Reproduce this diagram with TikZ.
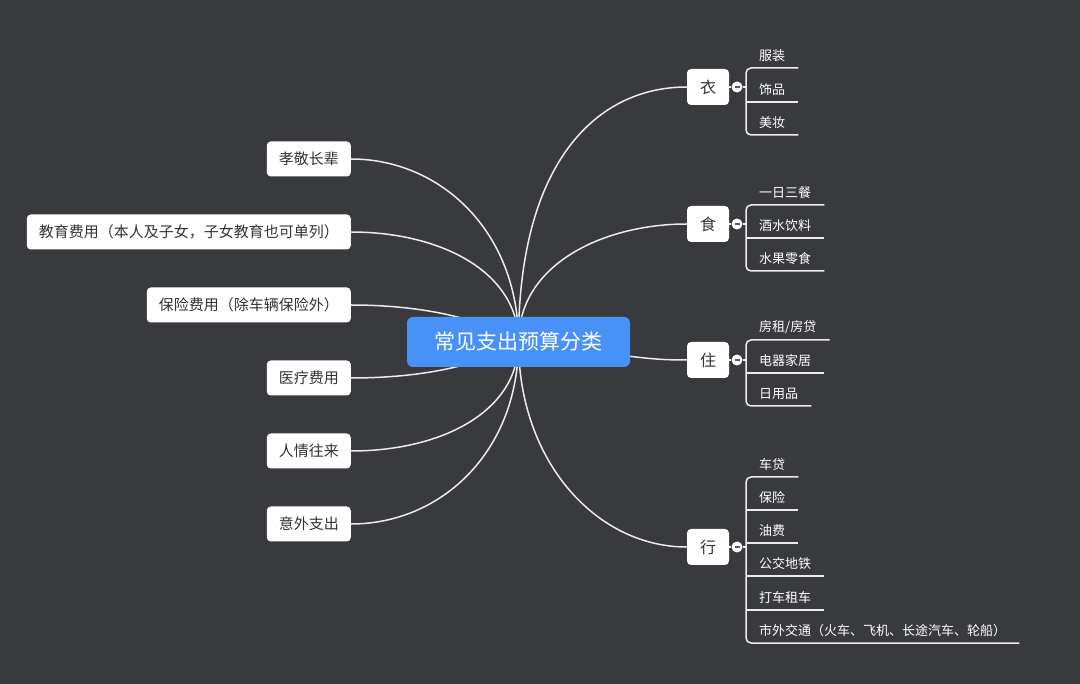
\documentclass[tikz,border=0pt]{standalone}
\usepackage{fontspec}
\setmainfont{Noto Sans CJK SC}
\usetikzlibrary{positioning}
\definecolor{bgdark}{RGB}{57,58,62}
\definecolor{rootblue}{RGB}{72,145,247}
\definecolor{boxtext}{RGB}{51,51,51}
\definecolor{wirecol}{RGB}{236,236,236}
\definecolor{foldgray}{RGB}{90,90,90}
\pgfdeclarelayer{bg}
\pgfdeclarelayer{wires}
\pgfsetlayers{bg,wires,main}
\newcommand{\foldmark}{\textcolor{foldgray}{\rule{5pt}{1.3pt}}}
\tikzset{
  root/.style={fill=rootblue, rounded corners=6pt, text=white, font=\fontsize{21}{24}\selectfont, minimum width=223pt, minimum height=50pt},
  sidebox/.style={fill=white, rounded corners=4pt, text=boxtext, font=\fontsize{15}{18}\selectfont, minimum height=35pt, inner xsep=12pt, anchor=east},
  catbox/.style={fill=white, rounded corners=4pt, text=boxtext, font=\fontsize{16}{19}\selectfont, minimum width=42pt, minimum height=36pt},
  fold/.style={circle, fill=white, minimum size=11pt, inner sep=0pt},
  leaf/.style={text=white, font=\fontsize{13}{15}\selectfont, anchor=south west, inner xsep=13pt, inner ysep=6pt},
  wire/.style={draw=wirecol, line width=1.5pt},
}
\begin{document}
\begin{tikzpicture}[x=1pt, y=-1pt]
    \begin{pgfonlayer}{bg}
        \fill[bgdark] (0,0) rectangle (1080,684);
    \end{pgfonlayer}
    \useasboundingbox (0,0) rectangle (1080,684);

    % root
    \node[root] (root) at (518.5,342) {常见支出预算分类};

    % left branches
    \node[sidebox] (elder) at (351,159) {孝敬长辈};
    \node[sidebox] (edu) at (351,232) {教育费用（本人及子女，子女教育也可单列）};
    \node[sidebox] (insur) at (351,305) {保险费用（除车辆保险外）};
    \node[sidebox] (medic) at (351,378) {医疗费用};
    \node[sidebox] (gift) at (351,451) {人情往来};
    \node[sidebox] (accident) at (351,524) {意外支出};

    % right branches
    \node[catbox] (yi) at (708,87) {衣};
    \node[catbox] (shi) at (708,224) {食};
    \node[catbox] (zhu) at (708,360) {住};
    \node[catbox] (xing) at (708,547) {行};
    \node[fold] (yi-f) at (737,87) {\foldmark};
    \node[fold] (shi-f) at (737,224) {\foldmark};
    \node[fold] (zhu-f) at (737,360) {\foldmark};
    \node[fold] (xing-f) at (737,547) {\foldmark};

    % leaves
    \node[leaf] (yi-1) at (746,68) {服装};
    \node[leaf] (yi-2) at (746,102) {饰品};
    \node[leaf] (yi-3) at (746,135) {美妆};

    \node[leaf] (shi-1) at (746,205) {一日三餐};
    \node[leaf] (shi-2) at (746,238) {酒水饮料};
    \node[leaf] (shi-3) at (746,271) {水果零食};

    \node[leaf] (zhu-1) at (746,340) {房租/房贷};
    \node[leaf] (zhu-2) at (746,373) {电器家居};
    \node[leaf] (zhu-3) at (746,406) {日用品};

    \node[leaf] (xing-1) at (746,477) {车贷};
    \node[leaf] (xing-2) at (746,510) {保险};
    \node[leaf] (xing-3) at (746,543) {油费};
    \node[leaf] (xing-4) at (746,576) {公交地铁};
    \node[leaf] (xing-5) at (746,610) {打车租车};
    \node[leaf] (xing-6) at (746,643) {市外交通（火车、飞机、长途汽车、轮船）};

    \begin{pgfonlayer}{wires}
        % root to left
        \draw[wire] (elder.east) .. controls +(90,0) and +(0,-110) .. (root.center);
        \draw[wire] (edu.east) .. controls +(90,0) and +(0,-70) .. (root.center);
        \draw[wire] (insur.east) .. controls +(80,0) and +(-30,-20) .. (root.center);
        \draw[wire] (medic.east) .. controls +(80,0) and +(-30,20) .. (root.center);
        \draw[wire] (gift.east) .. controls +(90,0) and +(0,70) .. (root.center);
        \draw[wire] (accident.east) .. controls +(90,0) and +(0,110) .. (root.center);

        % root to right
        \draw[wire] (root.center) .. controls +(0,-180) and +(-90,0) .. (yi.west);
        \draw[wire] (root.center) .. controls +(0,-80) and +(-80,0) .. (shi.west);
        \draw[wire] (root.center) .. controls +(120,15) and +(-40,0) .. (zhu.west);
        \draw[wire] (root.center) .. controls +(0,120) and +(-90,0) .. (xing.west);

        % categories to folds to brackets
        \draw[wire] (yi) -- (yi-f) -- (yi-f -| yi-1.south west);
        \draw[wire] (shi) -- (shi-f) -- (shi-f -| shi-1.south west);
        \draw[wire] (zhu) -- (zhu-f) -- (zhu-f -| zhu-1.south west);
        \draw[wire] (xing) -- (xing-f) -- (xing-f -| xing-1.south west);
    \end{pgfonlayer}

    % leaf brackets
    \draw[wire, rounded corners=5pt] (yi-1.south east) -- (yi-1.south west) -- (yi-3.south west) -- (yi-3.south east);
    \draw[wire] (yi-2.south west) -- (yi-2.south east);

    \draw[wire, rounded corners=5pt] (shi-1.south east) -- (shi-1.south west) -- (shi-3.south west) -- (shi-3.south east);
    \draw[wire] (shi-2.south west) -- (shi-2.south east);

    \draw[wire, rounded corners=5pt] (zhu-1.south east) -- (zhu-1.south west) -- (zhu-3.south west) -- (zhu-3.south east);
    \draw[wire] (zhu-2.south west) -- (zhu-2.south east);

    \draw[wire, rounded corners=5pt] (xing-1.south east) -- (xing-1.south west) -- (xing-6.south west) -- (xing-6.south east);
    \draw[wire] (xing-2.south west) -- (xing-2.south east);
    \draw[wire] (xing-3.south west) -- (xing-3.south east);
    \draw[wire] (xing-4.south west) -- (xing-4.south east);
    \draw[wire] (xing-5.south west) -- (xing-5.south east);
\end{tikzpicture}
\end{document}
